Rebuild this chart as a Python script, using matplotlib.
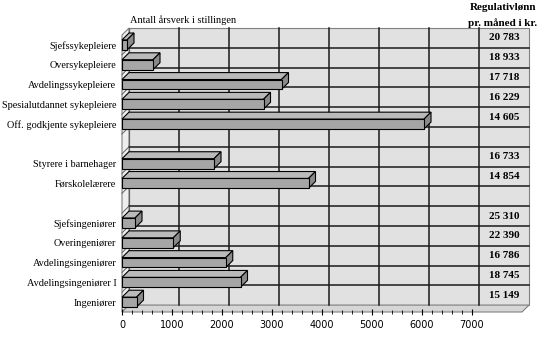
import matplotlib
matplotlib.use("Agg")
import matplotlib.pyplot as plt
from matplotlib.patches import Polygon
import numpy as np

# rows from top to bottom, None = empty row between groups
categories = ['Sjefssykepleiere', 'Oversykepleiere', 'Avdelingssykepleiere',
              'Spesialutdannet sykepleiere', 'Off. godkjente sykepleiere', None,
              'Styrere i barnehager', 'Førskolelærere', None,
              'Sjefsingeniører', 'Overingeniører', 'Avdelingsingeniører',
              'Avdelingsingeniører I', 'Ingeniører']
arsverk = [100, 620, 3190, 2830, 6040, None,
           1840, 3730, None,
           260, 1025, 2075, 2370, 290]
lonn = ['20 783', '18 933', '17 718', '16 229', '14 605', None,
        '16 733', '14 854', None,
        '25 310', '22 390', '16 786', '18 745', '15 149']

n = len(categories)
xmax = 8000      # last 1000 holds the salary column
DX = 140         # depth offset in value units (~7 px)
DY = -0.35       # depth offset in row units
h = 0.25         # half bar height

serif = 'Liberation Serif'

fig = plt.figure(figsize=(5.5, 3.51), dpi=100)
ax = fig.add_axes([122 / 550, 1 - 312 / 351, 400 / 550, 277 / 351])
ax.set_xlim(0, xmax)
ax.set_ylim(n, 0)
for s in ax.spines.values():
    s.set_visible(False)

wall = '#e1e1e1'
line = '#1a1a1a'

# back wall
ax.add_patch(Polygon([(DX, DY), (xmax + DX, DY), (xmax + DX, n + DY), (DX, n + DY)],
                     closed=True, fc=wall, ec='#808080', lw=0.8, clip_on=False, zorder=0))
# left wall
ax.add_patch(Polygon([(0, 0), (DX, DY), (DX, n + DY), (0, n)],
                     closed=True, fc='#eeeeee', ec='#808080', lw=0.8, clip_on=False, zorder=0))
# floor
ax.add_patch(Polygon([(0, n), (DX, n + DY), (xmax + DX, n + DY), (xmax, n)],
                     closed=True, fc='#d6d6d6', ec='#808080', lw=0.8, clip_on=False, zorder=0))

# grid on back wall
for xv in range(1000, xmax, 1000):
    ax.plot([xv + DX, xv + DX], [DY, n + DY], color=line, lw=1.1, clip_on=False, zorder=0.5)
ax.plot([DX, DX], [DY, n + DY], color='#606060', lw=0.8, clip_on=False, zorder=0.5)
for r in range(1, n):
    ax.plot([DX, xmax + DX], [r + DY, r + DY], color=line, lw=1.1, clip_on=False, zorder=0.5)
    ax.plot([0, DX], [r, r + DY], color='#606060', lw=0.7, clip_on=False, zorder=0.5)

# bars
front = '#a6a6a6'
top = '#bababa'
side = '#8a8a8a'
for i, v in enumerate(arsverk):
    if v is None:
        continue
    c = i + 0.5
    ax.add_patch(Polygon([(0, c - h), (DX, c - h + DY), (v + DX, c - h + DY), (v, c - h)],
                         closed=True, fc=top, ec='black', lw=0.8, clip_on=False, zorder=2))
    ax.add_patch(Polygon([(v, c - h), (v + DX, c - h + DY), (v + DX, c + h + DY), (v, c + h)],
                         closed=True, fc=side, ec='black', lw=0.8, clip_on=False, zorder=2))
    ax.add_patch(Polygon([(0, c - h), (v, c - h), (v, c + h), (0, c + h)],
                         closed=True, fc=front, ec='black', lw=0.8, clip_on=False, zorder=2))

# salary column
for i, t in enumerate(lonn):
    if t is None:
        continue
    ax.text(7500 + DX, i + 0.5 + DY, t, ha='center', va='center', fontsize=8,
            fontweight='bold', family=serif, clip_on=False)

# axes
ticks = [i + 0.5 for i, c in enumerate(categories) if c is not None]
ax.set_yticks(ticks)
ax.set_yticklabels([c for c in categories if c is not None], family=serif, fontsize=7.4)
ax.tick_params(axis='y', length=0, pad=4)
ax.set_xticks(range(0, 8000, 1000))
ax.set_xticks(range(0, 7001, 200), minor=True)
ax.tick_params(axis='x', which='major', direction='inout', length=5, width=0.8,
               labelsize=7, pad=3)
ax.tick_params(axis='x', which='minor', direction='inout', length=3, width=0.6)

fig.text(130 / 550, 1 - 20 / 351, 'Antall årsverk i stillingen', ha='left', va='center',
         fontsize=7.5, family=serif)
fig.text(503 / 550, 1 - 8 / 351, 'Regulativlønn', ha='center', va='center',
         fontsize=8, fontweight='bold', family=serif)
fig.text(503 / 550, 1 - 23 / 351, 'pr. måned i kr.', ha='center', va='center',
         fontsize=8, fontweight='bold', family=serif)

fig.savefig('out.png', dpi=100)
